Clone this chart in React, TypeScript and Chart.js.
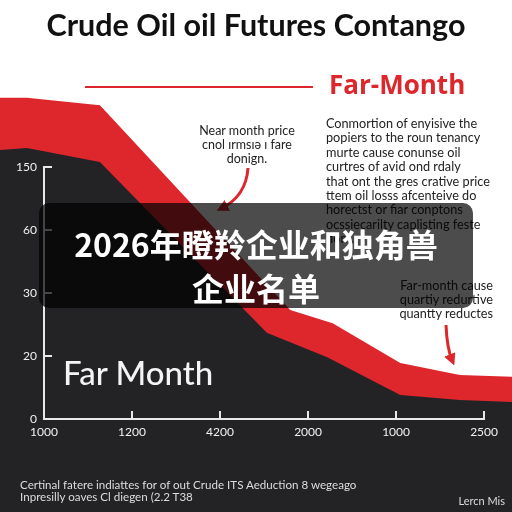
import React, { useEffect, useRef } from "react";
import { Chart, registerables } from "chart.js";

Chart.register(...registerables);

// ---- data ----
const titleText = "Crude Oil oil Futures Contango";
const xTickLabels = ["1000", "1200", "4200", "2000", "1000", "2500"];
const yTickLabels = ["0", "20", "30", "60", "150"];

// upper (red) band edge, in tick-position units (x: category index, y: tick index)
const nearEdgeX = [-0.49, -0.19, 0.62, 2.73, 3.2, 3.95, 4.61, 5.19];
const nearEdgeY = [5.1, 5.1, 4.98, 1.73, 1.52, 0.89, 0.7, 0.67];
// lower (dark) band edge
const farEdgeX = [-0.49, -0.19, 0.62, 2.47, 3.14, 3.95, 4.61, 5.19];
const farEdgeY = [4.27, 4.3, 4.08, 1.37, 0.98, 0.38, 0.3, 0.27];

const noteLines = ["Near month price", "cnol ırmsıə ı fare", "donign."];
const paragraphLines = [
  "Conmortion of enyisive the",
  "popiers to the roun tenancy",
  "murte cause conunse oil",
  "curtres of avid ond rdaly",
  "that ont the gres crative price",
  "ttem oil losss afcenteive do",
  "horectst or fiar conptons",
  "ocssiecarilty caplisting feste",
  "fiom.",
];
const causeLines = ["Far-month cause", "quartiy redurtive", "quantty reductes"];
const footLines = [
  "Certinal fatere indiattes for of out Crude ITS Aeduction 8 wegeago",
  "Inpresilly oaves Cl diegen (2.2 T38",
];
const overlayLines = ["2026年瞪羚企业和独角兽", "企业名单"];

// ---- layout / style ----
const W = 512;
const H = 512;
const AX_L = 44;
const AX_R = 495;
const AX_T = 167;
const AX_B = 419;
const RED = "#de272c";
const DARK = "#232326";
const AXIS = "#e8e8e8";
const FONT = "Lato, 'Open Sans', sans-serif";
const TITLE_SIZE = 30.5;

const pxPerX = (AX_R - AX_L) / (xTickLabels.length - 1);
const pxPerY = (AX_B - AX_T) / (yTickLabels.length - 1);

const toPts = (xs: number[], ys: number[]) => xs.map((x, i) => ({ x, y: ys[i] }));

export default function App() {
  const bandRef = useRef<HTMLCanvasElement | null>(null);
  const axesRef = useRef<HTMLCanvasElement | null>(null);

  useEffect(() => {
    if (!bandRef.current || !axesRef.current) return;
    const band = new Chart(bandRef.current, {
      type: "line",
      data: {
        datasets: [
          {
            label: "Far Month",
            data: toPts(farEdgeX, farEdgeY),
            borderWidth: 0,
            pointRadius: 0,
            backgroundColor: DARK,
            borderColor: DARK,
            fill: "start",
            tension: 0,
          },
          {
            label: "Near Month",
            data: toPts(nearEdgeX, nearEdgeY),
            borderWidth: 0,
            pointRadius: 0,
            backgroundColor: RED,
            borderColor: RED,
            fill: "start",
            tension: 0,
          },
        ],
      },
      options: {
        responsive: false,
        animation: false,
        layout: { padding: 0 },
        plugins: { legend: { display: false }, title: { display: false }, tooltip: { enabled: false } },
        scales: {
          x: { type: "linear", display: false, min: -AX_L / pxPerX, max: (W - AX_L) / pxPerX },
          y: { type: "linear", display: false, min: -(H - AX_B) / pxPerY, max: AX_B / pxPerY },
        },
      },
    });

    const axes = new Chart(axesRef.current, {
      type: "line",
      data: { labels: xTickLabels, datasets: [] },
      options: {
        responsive: false,
        animation: false,
        layout: { padding: 0 },
        plugins: {
          legend: { display: false },
          tooltip: { enabled: false },
          title: {
            display: true,
            text: titleText,
            color: "#111111",
            font: { family: FONT, size: TITLE_SIZE, weight: "bold", lineHeight: 1.2 },
            padding: { top: 8, bottom: AX_T - 8 - TITLE_SIZE * 1.2 },
          },
        },
        scales: {
          x: {
            type: "category",
            offset: false,
            afterFit: (s: any) => {
              s.height = H - AX_B;
            },
            grid: { drawOnChartArea: false, drawTicks: true, tickLength: -8, color: AXIS, lineWidth: 2 },
            border: { color: AXIS, width: 2 },
            ticks: {
              color: "#f0f0f0",
              font: { family: FONT, size: 12 },
              padding: 14,
              autoSkip: false,
              maxRotation: 0,
            },
          },
          y: {
            type: "linear",
            min: 0,
            max: yTickLabels.length - 1,
            afterFit: (s: any) => {
              s.width = AX_L;
            },
            grid: { drawOnChartArea: false, drawTicks: true, tickLength: -8, color: AXIS, lineWidth: 2 },
            border: { color: AXIS, width: 2 },
            ticks: {
              stepSize: 1,
              color: "#f0f0f0",
              font: { family: FONT, size: 12 },
              padding: 15,
              callback: (v: any) => yTickLabels[Number(v)] ?? "",
            },
          },
          // empty right-hand spacer axis so the plot ends where the reference axis ends
          yRight: {
            type: "linear",
            position: "right",
            min: 0,
            max: yTickLabels.length - 1,
            afterFit: (s: any) => {
              s.width = W - AX_R;
            },
            grid: { display: false, drawTicks: false },
            border: { display: false },
            ticks: { display: false },
          },
        },
      },
    });

    return () => {
      band.destroy();
      axes.destroy();
    };
  }, []);

  const abs = (s: React.CSSProperties): React.CSSProperties => ({ position: "absolute", margin: 0, ...s });

  return (
    <div
      style={{
        position: "fixed",
        left: 0,
        top: 0,
        width: W,
        height: H,
        background: "#ffffff",
        overflow: "hidden",
        fontFamily: FONT,
      }}
    >
      <canvas ref={bandRef} width={W} height={H} style={abs({ left: 0, top: 0, width: W, height: H })} />
      <canvas ref={axesRef} width={W} height={H} style={abs({ left: 0, top: 0, width: W, height: H })} />

      {/* legend-like line and label */}
      <div style={abs({ left: 85, top: 86, width: 228, height: 2, background: RED })} />
      <div
        style={abs({
          left: 329,
          top: 68,
          fontSize: 26,
          fontWeight: 700,
          color: RED,
          lineHeight: "32px",
          fontFamily: "'Open Sans', sans-serif",
          whiteSpace: "nowrap",
        })}
      >
        Far-Month
      </div>

      {/* near month note */}
      <div
        style={abs({
          left: 167,
          top: 124,
          width: 160,
          textAlign: "center",
          fontSize: 12.5,
          lineHeight: "14px",
          color: "#222",
        })}
      >
        {noteLines.map((l, i) => (
          <div key={i}>{l}</div>
        ))}
      </div>

      {/* paragraph */}
      <div style={abs({ left: 326, top: 116, fontSize: 12.7, lineHeight: "14.4px", color: "#222", whiteSpace: "nowrap" })}>
        {paragraphLines.map((l, i) => (
          <div key={i}>{l}</div>
        ))}
      </div>

      {/* far month cause */}
      <div
        style={abs({
          right: W - 493,
          top: 278,
          fontSize: 12.7,
          lineHeight: "14px",
          color: "#222",
          textAlign: "right",
          whiteSpace: "nowrap",
        })}
      >
        {causeLines.map((l, i) => (
          <div key={i}>{l}</div>
        ))}
      </div>

      {/* arrows */}
      <svg width={W} height={H} style={abs({ left: 0, top: 0 })}>
        <defs>
          <marker id="ah" viewBox="0 0 10 10" refX="5" refY="5" markerWidth="4" markerHeight="4" orient="auto">
            <path d="M0,0 L10,5 L0,10 z" fill={RED} />
          </marker>
        </defs>
        <path d="M248,168 Q246,196 222,208" stroke={RED} strokeWidth={3} fill="none" markerEnd="url(#ah)" />
        <path d="M446,325 Q447,348 452,360" stroke={RED} strokeWidth={3} fill="none" markerEnd="url(#ah)" />
      </svg>

      {/* Far Month label */}
      <div style={abs({ left: 63, top: 352, fontSize: 33, fontWeight: 500, color: "#f4f4f4", lineHeight: "40px" })}>
        Far Month
      </div>

      {/* footnote */}
      <div style={abs({ left: 20, top: 479, fontSize: 11.6, lineHeight: "11.5px", color: "#dddddd", whiteSpace: "nowrap" })}>
        {footLines.map((l, i) => (
          <div key={i}>{l}</div>
        ))}
      </div>
      <div style={abs({ right: 7, top: 494, fontSize: 11, lineHeight: "14px", color: "#dddddd" })}>Lercn Mis</div>

      {/* overlay banner */}
      <div
        style={abs({
          left: 39,
          top: 203,
          width: 434,
          height: 105,
          borderRadius: 10,
          background: "rgba(0,0,0,0.7)",
        })}
      />
      <div
        style={abs({
          left: 39,
          top: 221,
          width: 434,
          textAlign: "center",
          color: "#ffffff",
          fontFamily: "'Noto Sans CJK SC', sans-serif",
          fontWeight: 700,
          fontSize: 32,
          lineHeight: "44px",
        })}
      >
        {overlayLines.map((l, i) => (
          <div key={i}>{l}</div>
        ))}
      </div>
    </div>
  );
}
